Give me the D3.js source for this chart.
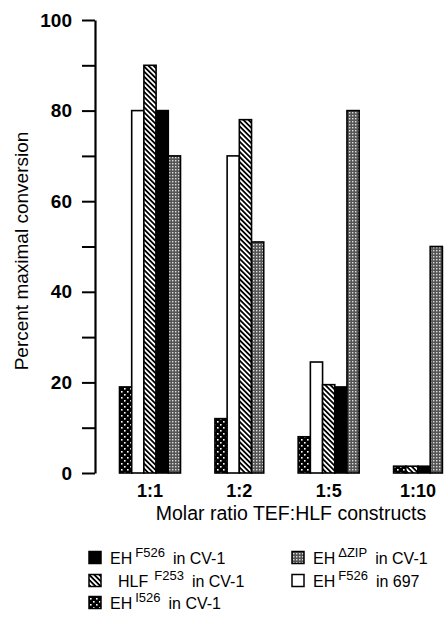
<!DOCTYPE html>
<html>
<head>
<meta charset="utf-8">
<script src="https://cdn.jsdelivr.net/npm/d3@7"></script>
<style>
  body { margin: 0; background: #fff; }
  text { font-family: "Liberation Sans", Arial, Helvetica, sans-serif; fill: #000; }
</style>
</head>
<body>
<div id="chart"></div>
<script>
// molar ratios on the x axis
const groups = ["1:1", "1:2", "1:5", "1:10"];
// percent maximal conversion, null = bar not drawn
const ehI526Cv1 = [19, 12, 8, 1.5];
const ehF526In697 = [80, 70, 24.5, null];
const hlfF253Cv1 = [90, 78, 19.5, 1.5];
const ehF526Cv1 = [80, null, 19, 1.5];
const ehDzipCv1 = [70, 51, 80, 50];
const yTicks = [0, 10, 20, 30, 40, 50, 60, 70, 80, 90, 100];
const yLabels = [0, 20, 40, 60, 80, 100];

const series = [
  { key: "ehI526", values: ehI526Cv1, fill: "url(#checker)" },
  { key: "ehF526_697", values: ehF526In697, fill: "#fff" },
  { key: "hlfF253", values: hlfF253Cv1, fill: "url(#hatch)" },
  { key: "ehF526", values: ehF526Cv1, fill: "#000" },
  { key: "ehDzip", values: ehDzipCv1, fill: "url(#grain)" }
];

const W = 445, H = 618;
const BAR_W = 12.2;

const svg = d3.select("#chart").append("svg")
  .attr("width", W)
  .attr("height", H);

// fill patterns
const defs = svg.append("defs");
const checker = defs.append("pattern").attr("id", "checker")
  .attr("patternUnits", "userSpaceOnUse").attr("width", 6).attr("height", 6);
checker.append("rect").attr("width", 6).attr("height", 6).attr("fill", "#000");
checker.append("rect").attr("x", 1).attr("y", 1).attr("width", 1.6).attr("height", 1.6).attr("fill", "#fff");
checker.append("rect").attr("x", 4).attr("y", 4).attr("width", 1.6).attr("height", 1.6).attr("fill", "#fff");

const hatch = defs.append("pattern").attr("id", "hatch")
  .attr("patternUnits", "userSpaceOnUse").attr("width", 3.6).attr("height", 10)
  .attr("patternTransform", "rotate(-45)");
hatch.append("rect").attr("width", 3.6).attr("height", 10).attr("fill", "#fff");
hatch.append("rect").attr("width", 1.8).attr("height", 10).attr("fill", "#000");

const grain = defs.append("pattern").attr("id", "grain")
  .attr("patternUnits", "userSpaceOnUse").attr("width", 3).attr("height", 3);
grain.append("rect").attr("width", 3).attr("height", 3).attr("fill", "#555");
grain.append("rect").attr("x", 1).attr("y", 1).attr("width", 1.4).attr("height", 1.4).attr("fill", "#ddd");

// scales
const x = d3.scalePoint().domain(groups).range([150, 418]);
const y = d3.scaleLinear().domain([0, 100]).range([473, 20]);

// y axis
const yAxis = svg.append("g")
  .attr("transform", "translate(95,0)")
  .call(d3.axisLeft(y).tickValues(yTicks).tickSize(13).tickSizeOuter(0)
    .tickFormat(d => yLabels.includes(d) ? d : ""));
yAxis.select(".domain").attr("stroke", "#000").attr("stroke-width", 2.2);
yAxis.selectAll(".tick line").attr("stroke", "#000").attr("stroke-width", 2);
yAxis.selectAll(".tick text")
  .attr("x", -23)
  .style("font-size", "19px")
  .style("font-weight", "bold")
  .style("font-family", "'Liberation Sans', Arial, sans-serif");

svg.append("text")
  .attr("transform", "translate(28,251) rotate(-90)")
  .attr("text-anchor", "middle")
  .style("font-size", "19px")
  .text("Percent maximal conversion");

// bars, packed side by side within each group
groups.forEach((g, gi) => {
  const present = series.filter(s => s.values[gi] != null);
  const start = x(g) - present.length * BAR_W / 2;
  svg.append("g").selectAll("rect")
    .data(present)
    .join("rect")
    .attr("x", (s, i) => start + i * BAR_W)
    .attr("y", s => y(s.values[gi]))
    .attr("width", BAR_W)
    .attr("height", s => y(0) - y(s.values[gi]))
    .attr("fill", s => s.fill)
    .attr("stroke", "#000")
    .attr("stroke-width", 1.6);
});

// x tick labels (no axis line in the original)
svg.append("g").selectAll("text")
  .data(groups)
  .join("text")
  .attr("x", d => x(d))
  .attr("y", 497)
  .attr("text-anchor", "middle")
  .style("font-size", "18px")
  .style("font-weight", "bold")
  .text(d => d);

svg.append("text")
  .attr("x", 291)
  .attr("y", 520)
  .attr("text-anchor", "middle")
  .style("font-size", "19.5px")
  .text("Molar ratio TEF:HLF constructs");

// legend
const legendItems = [
  { base: "EH", sup: "F526", rest: "in CV-1", fill: "#000", col: 0, row: 0 },
  { base: "HLF", sup: "F253", rest: "in CV-1", fill: "url(#hatch)", col: 0, row: 1 },
  { base: "EH", sup: "I526", rest: "in CV-1", fill: "url(#checker)", col: 0, row: 2 },
  { base: "EH", sup: "\u0394ZIP", rest: "in CV-1", fill: "url(#grain)", col: 1, row: 0 },
  { base: "EH", sup: "F526", rest: "in 697", fill: "#fff", col: 1, row: 1 }
];
const colX = [89, 292];
const rowY = [558, 581, 603];

const legend = svg.append("g").selectAll("g")
  .data(legendItems)
  .join("g")
  .attr("transform", d => `translate(${colX[d.col]},${rowY[d.row]})`);

legend.append("rect")
  .attr("x", 0).attr("y", -6.5)
  .attr("width", 12).attr("height", 12)
  .attr("fill", d => d.fill)
  .attr("stroke", "#000")
  .attr("stroke-width", 1.5);

const lt = legend.append("text")
  .attr("x", d => d.base === "HLF" ? 29 : 21)
  .attr("y", 6)
  .style("font-size", "16px");
lt.append("tspan").text(d => d.base);
lt.append("tspan")
  .attr("dx", d => d.base === "HLF" ? 6 : 3)
  .attr("dy", -7)
  .style("font-size", "13px")
  .text(d => d.sup);
lt.append("tspan")
  .attr("dx", 8)
  .attr("dy", 7)
  .style("font-size", "16px")
  .text(d => d.rest);
</script>
</body>
</html>
